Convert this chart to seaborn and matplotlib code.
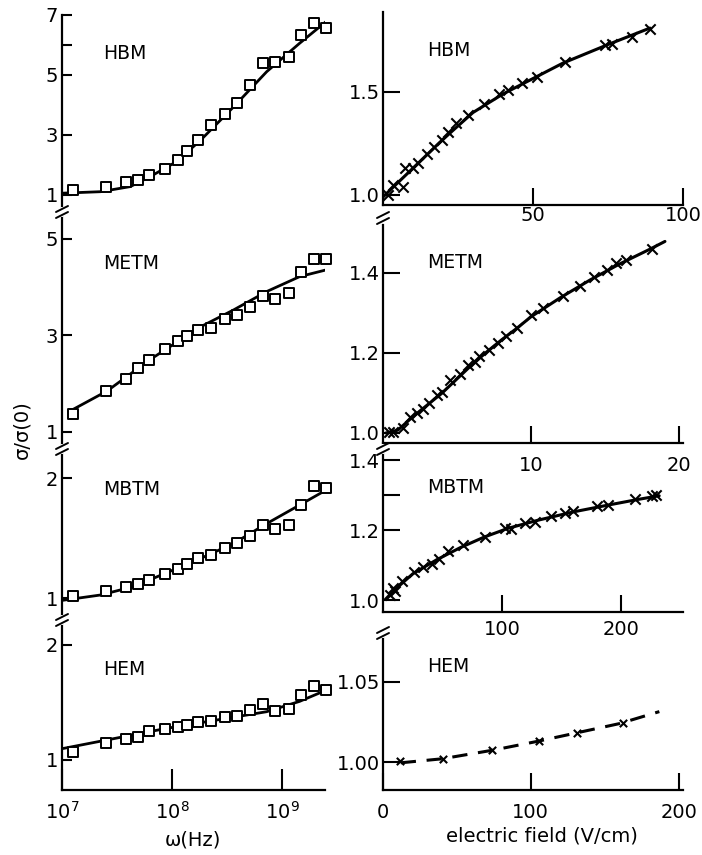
import matplotlib
matplotlib.use("Agg")
import matplotlib.pyplot as plt
import numpy as np
import pandas as pd
import seaborn as sns

# ---------------- data: left column (frequency dependence) ----------------
# log10(omega / Hz) of the square markers (same frequencies for all samples)
w_exp = [7.10, 7.40, 7.58, 7.69, 7.79, 7.94, 8.05, 8.14, 8.24, 8.35,
         8.48, 8.59, 8.71, 8.83, 8.94, 9.06, 9.17, 9.29, 9.40]
hbm_w = [1.17, 1.28, 1.42, 1.49, 1.66, 1.87, 2.17, 2.47, 2.82, 3.33,
         3.69, 4.07, 4.66, 5.41, 5.44, 5.59, 6.33, 6.72, 6.56]
metm_w = [1.38, 1.85, 2.09, 2.33, 2.49, 2.72, 2.89, 2.98, 3.12, 3.16,
          3.34, 3.43, 3.60, 3.81, 3.75, 3.89, 4.32, 4.59, 4.59]
mbtm_w = [1.02, 1.06, 1.09, 1.12, 1.15, 1.20, 1.24, 1.28, 1.33, 1.36,
          1.42, 1.46, 1.52, 1.61, 1.575, 1.61, 1.775, 1.93, 1.92]
hem_w = [1.067, 1.145, 1.18, 1.20, 1.25, 1.27, 1.287, 1.307, 1.33, 1.34,
         1.37, 1.385, 1.435, 1.49, 1.43, 1.44, 1.565, 1.64, 1.61]

# fitted curves (log10 omega, value)
hbm_fit_x = [7.00, 7.35, 7.62, 7.80, 8.04, 8.26, 8.56, 8.86, 9.16, 9.41]
hbm_fit_y = [1.06, 1.11, 1.28, 1.61, 2.11, 2.83, 3.94, 5.11, 6.06, 6.81]
metm_fit_x = [7.07, 7.41, 7.80, 8.26, 8.56, 8.86, 9.16, 9.42]
metm_fit_y = [1.43, 1.85, 2.50, 3.18, 3.53, 3.91, 4.22, 4.37]
mbtm_fit_x = [7.00, 7.35, 7.65, 7.95, 8.26, 8.56, 8.86, 9.16, 9.42]
mbtm_fit_y = [0.98, 1.025, 1.095, 1.21, 1.33, 1.455, 1.62, 1.775, 1.91]
hem_fit_x = [7.01, 7.95, 8.86, 9.16, 9.42]
hem_fit_y = [1.10, 1.275, 1.42, 1.51, 1.615]

# ---------------- data: right column (field dependence) ----------------
hbm_e = [1.8, 3.4, 6.6, 7.4, 9.9, 11.8, 14.8, 17.1, 19.6, 21.8, 24.3, 28.4,
         33.7, 38.8, 41.8, 46.2, 51.2, 60.7, 74.0, 76.2, 82.9, 89.0]
hbm_s = [1.00, 1.049, 1.04, 1.13, 1.13, 1.154, 1.20, 1.235, 1.267, 1.304,
         1.348, 1.388, 1.44, 1.489, 1.51, 1.542, 1.571, 1.647, 1.73, 1.733,
         1.768, 1.806]
hbm_line_e = [0, 5, 10, 15, 20, 30, 40, 50, 60, 75, 89]
hbm_line_s = [0.99, 1.06, 1.13, 1.20, 1.27, 1.40, 1.49, 1.565, 1.64, 1.73, 1.81]

metm_e = [0.43, 0.70, 1.37, 1.82, 2.28, 2.72, 3.13, 3.63, 3.97, 4.53, 5.20,
          5.77, 6.22, 6.51, 7.16, 7.79, 8.31, 9.03, 9.98, 10.83, 12.14,
          13.31, 14.26, 15.11, 15.74, 16.42, 18.15]
metm_s = [1.002, 1.002, 1.013, 1.04, 1.049, 1.061, 1.076, 1.096, 1.102,
          1.131, 1.146, 1.17, 1.176, 1.193, 1.207, 1.225, 1.241, 1.262,
          1.294, 1.312, 1.341, 1.368, 1.388, 1.407, 1.423, 1.431, 1.46]
metm_line_e = [0.2, 1.0, 2.0, 3.0, 4.0, 5.0, 6.0, 7.0, 8.0, 9.0, 10.0,
               12.0, 14.0, 16.0, 18.0, 19.05]
metm_line_s = [1.0, 1.007, 1.04, 1.07, 1.10, 1.135, 1.17, 1.202, 1.232,
               1.26, 1.29, 1.338, 1.382, 1.422, 1.458, 1.478]

mbtm_e = [5.9, 8.1, 10.1, 15.7, 26.0, 33.9, 40.9, 47.3, 54.9, 67.5, 85.7,
          102.5, 107.6, 119.3, 127.7, 140.9, 152.9, 160.0, 179.6, 188.8,
          211.8, 225.8, 229.4]
mbtm_s = [1.015, 1.035, 1.027, 1.055, 1.08, 1.095, 1.104, 1.117, 1.139,
          1.157, 1.181, 1.207, 1.204, 1.221, 1.224, 1.239, 1.249, 1.254,
          1.269, 1.271, 1.289, 1.296, 1.30]
mbtm_line_e = [2, 10, 25, 45, 65, 85, 105, 130, 160, 190, 215, 232]
mbtm_line_s = [1.002, 1.03, 1.075, 1.115, 1.15, 1.18, 1.205, 1.228, 1.252,
               1.272, 1.288, 1.298]

hem_e = [11.5, 40.5, 73.7, 105.8, 131.3, 162.5]
hem_s = [1.0006, 1.0019, 1.0075, 1.0133, 1.0183, 1.0242]
hem_line_e = [12, 40, 75, 105, 130, 160, 187]
hem_line_s = [0.9995, 1.002, 1.0075, 1.013, 1.018, 1.024, 1.0315]

# ---------------- figure ----------------
sns.set_theme(style="ticks")
plt.rcParams["font.family"] = ["DejaVu Sans"]
plt.rcParams["axes.linewidth"] = 1.6
plt.rcParams["axes.edgecolor"] = "black"
for k in ["text.color", "axes.labelcolor", "xtick.color", "ytick.color"]:
    plt.rcParams[k] = "black"

W, H = 702, 855
fig = plt.figure(figsize=(W / 100, H / 100), dpi=100)
fig.patch.set_facecolor("white")


def px_axes(x0, x1, ytop, ybot):
    return fig.add_axes([x0 / W, 1 - ybot / H, (x1 - x0) / W, (ybot - ytop) / H])


TFS = 14
LFS = 13.5

left_specs = [
    ("HBM", hbm_w, hbm_fit_x, hbm_fit_y, (15, 210), (0.5, 7.0), [1, 3, 5, 7], [6], 0.805),
    ("METM", metm_w, metm_fit_x, metm_fit_y, (210, 448), (0.668, 5.60), [1, 3, 5], [], 0.777),
    ("MBTM", mbtm_w, mbtm_fit_x, mbtm_fit_y, (448, 622), (0.80, 2.25), [1, 2], [], 0.764),
    ("HEM", hem_w, hem_fit_x, hem_fit_y, (622, 790), (0.739, 2.20), [1, 2], [], 0.72),
]

for i, (name, vals, fx, fy, (yt, yb), ylim, yt_major, yt_minor, ly) in enumerate(left_specs):
    ax = px_axes(62, 325, yt, yb)
    ax.set_facecolor("none")
    fit = pd.DataFrame({"w": np.power(10.0, fx), "s": fy})
    pts = pd.DataFrame({"w": np.power(10.0, w_exp), "s": vals})
    sns.lineplot(data=fit, x="w", y="s", ax=ax, color="black", lw=2.0, zorder=2)
    sns.scatterplot(data=pts, x="w", y="s", ax=ax, marker="s", s=42,
                    facecolor="white", edgecolor="black", linewidth=1.4,
                    zorder=3, clip_on=False)
    ax.set_xscale("log")
    ax.set_xlim(1e7, 10 ** 9.39)
    ax.set_ylim(*ylim)
    ax.set_yticks(yt_major)
    ax.set_yticklabels([str(v) for v in yt_major], fontsize=TFS)
    ax.set_yticks(yt_minor, minor=True)
    ax.tick_params(axis="y", which="both", direction="in", length=7, width=1.5, pad=3)
    ax.set_xlabel("")
    ax.set_ylabel("")
    ax.text(0.156, ly, name, transform=ax.transAxes, fontsize=LFS,
            ha="left", va="center")
    for s in ["top", "right"]:
        ax.spines[s].set_visible(False)
    if i < 3:
        ax.spines["bottom"].set_visible(False)
        ax.tick_params(axis="x", which="both", bottom=False, labelbottom=False)
    else:
        ax.set_xticks([1e7, 1e8, 1e9])
        ax.set_xticklabels([r"$10^7$", r"$10^8$", r"$10^9$"], fontsize=TFS)
        ax.xaxis.set_minor_locator(matplotlib.ticker.NullLocator())
        ax.tick_params(axis="x", which="major", direction="in", length=15,
                       width=1.5, pad=8)

right_specs = [
    ("HBM", hbm_e, hbm_s, hbm_line_e, hbm_line_s, (12, 205), (0.951, 1.888),
     (0, 100), [50, 100], [1.0, 1.5], ["1.0", "1.5"], [], 1, 0.803, "x", 55, "-"),
    ("METM", metm_e, metm_s, metm_line_e, metm_line_s, (225, 443), (0.975, 1.519),
     (0, 20.27), [10, 20], [1.0, 1.2, 1.4], ["1.0", "1.2", "1.4"], [], 9, 0.83, "x", 55, "-"),
    ("MBTM", mbtm_e, mbtm_s, mbtm_line_e, mbtm_line_s, (452, 612), (0.966, 1.423),
     (0, 252), [100, 200], [1.0, 1.2, 1.4], ["1.0", "1.2", "1.4"], [1.3], 6, 0.78, "x", 55, "-"),
    ("HEM", hem_e, hem_s, hem_line_e, hem_line_s, (638, 790), (0.9825, 1.0775),
     (0, 203), [0, 100, 200], [1.00, 1.05], ["1.00", "1.05"], [], 9, 0.81, "x", 28, "--"),
]

for name, xe, ys, le, ls, (yt, yb), ylim, xlim, xt, ytk, ytl, ymin, xpad, ly, mk, ms, lst in right_specs:
    ax = px_axes(383, 683, yt, yb)
    ax.set_facecolor("none")
    line = pd.DataFrame({"e": le, "s": ls})
    pts = pd.DataFrame({"e": xe, "s": ys})
    sns.lineplot(data=line, x="e", y="s", ax=ax, color="black", lw=2.2,
                 linestyle=lst, zorder=2)
    if lst == "--":
        ax.lines[-1].set_dashes((5, 3.5))
    sns.scatterplot(data=pts, x="e", y="s", ax=ax, marker=mk, s=ms,
                    color="black", linewidth=1.5, zorder=3, clip_on=False)
    ax.set_xlim(*xlim)
    ax.set_ylim(*ylim)
    ax.set_xticks(xt)
    ax.set_xticklabels([str(v) for v in xt], fontsize=TFS)
    ax.set_yticks(ytk)
    ax.set_yticklabels(ytl, fontsize=TFS)
    ax.set_yticks(ymin, minor=True)
    ax.tick_params(axis="y", which="both", direction="in", length=12, width=1.5, pad=2)
    ax.tick_params(axis="x", which="major", direction="in", length=12, width=1.5, pad=xpad)
    ax.set_xlabel("")
    ax.set_ylabel("")
    ax.text(0.147, ly, name, transform=ax.transAxes, fontsize=LFS,
            ha="left", va="center")
    for s in ["top", "right"]:
        ax.spines[s].set_visible(False)

# axis break marks (in figure pixel coordinates)
def brk(x, y):
    tr = fig.transFigure
    fig.add_artist(plt.Line2D([x / W, x / W], [1 - (y - 3) / H, 1 - (y + 3) / H],
                              transform=tr, color="white", lw=3, zorder=10))
    for dy in (-3, 3):
        fig.add_artist(plt.Line2D([(x - 6) / W, (x + 6) / W],
                                  [1 - (y + dy + 3) / H, 1 - (y + dy - 3) / H],
                                  transform=tr, color="black", lw=1.4, zorder=11))

for yy in (212, 449, 620):
    brk(62, yy)
for yy in (218, 449, 633):
    brk(383, yy)

fig.text(22 / W, 1 - 430 / H, "σ/σ(0)", rotation=90, fontsize=TFS,
         ha="center", va="center")
fig.text(193 / W, 1 - 840 / H, "ω(Hz)", fontsize=TFS, ha="center", va="center")
fig.text(542 / W, 1 - 836 / H, "electric field (V/cm)", fontsize=TFS,
         ha="center", va="center")

fig.savefig("out.png", dpi=100, facecolor="white")
